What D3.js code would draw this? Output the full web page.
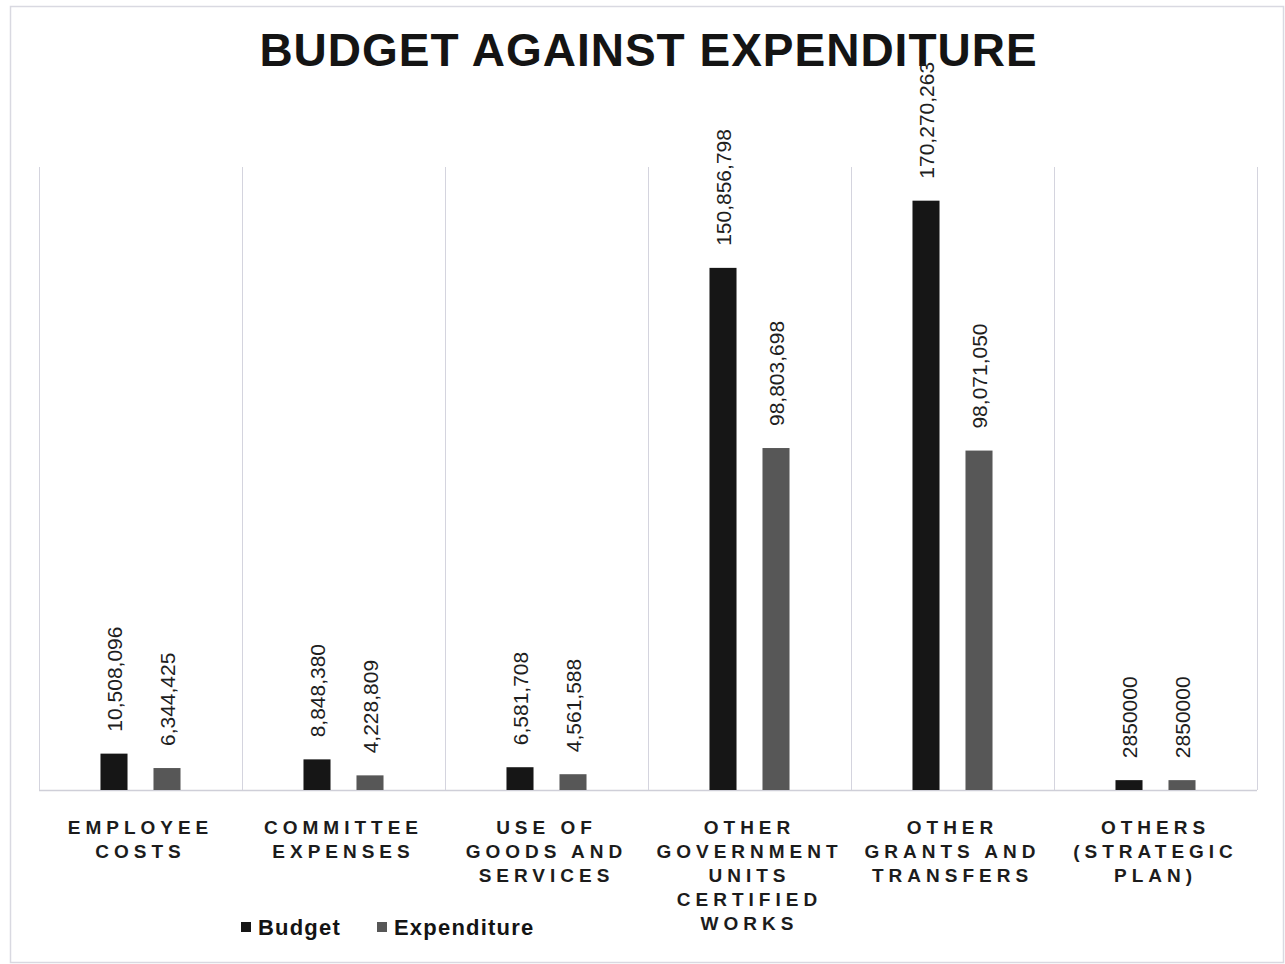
<!DOCTYPE html>
<html>
<head>
<meta charset="utf-8">
<script src="https://cdn.jsdelivr.net/npm/d3@7"></script>
<style>
  html, body { margin: 0; padding: 0; background: #fff; }
  svg { display: block; font-family: "Liberation Sans", Arial, sans-serif; }
</style>
</head>
<body>
<svg id="chart" width="1285" height="964"></svg>
<script>
const title = "BUDGET AGAINST EXPENDITURE";
const categories = [
  "EMPLOYEE COSTS",
  "COMMITTEE EXPENSES",
  "USE OF GOODS AND SERVICES",
  "OTHER GOVERNMENT UNITS CERTIFIED WORKS",
  "OTHER GRANTS AND TRANSFERS",
  "OTHERS (STRATEGIC PLAN)"
];
const categoryLines = [
  ["EMPLOYEE", "COSTS"],
  ["COMMITTEE", "EXPENSES"],
  ["USE OF", "GOODS AND", "SERVICES"],
  ["OTHER", "GOVERNMENT", "UNITS", "CERTIFIED", "WORKS"],
  ["OTHER", "GRANTS AND", "TRANSFERS"],
  ["OTHERS", "(STRATEGIC", "PLAN)"]
];
const seriesNames = ["Budget", "Expenditure"];
const budget = [10508096, 8848380, 6581708, 150856798, 170270263, 2850000];
const expenditure = [6344425, 4228809, 4561588, 98803698, 98071050, 2850000];
// categories whose data labels are shown without thousands separators
const plainLabelCategories = ["OTHERS (STRATEGIC PLAN)"];
const yMax = 180000000;

const colors = { "Budget": "#161616", "Expenditure": "#575757" };

const svg = d3.select("#chart");

// outer frame
svg.append("rect")
  .attr("x", 10.5).attr("y", 6.5).attr("width", 1273).attr("height", 956)
  .attr("fill", "none").attr("stroke", "#d9d9e1").attr("stroke-width", 1.5);

const plot = { left: 39, right: 1257, top: 167, bottom: 790 };

const x0 = d3.scaleBand().domain(categories).range([plot.left, plot.right]).paddingInner(0).paddingOuter(0);
const x1 = d3.scaleBand().domain(seriesNames).range([0, x0.bandwidth()]).paddingInner(0.49).paddingOuter(1.16);
const y = d3.scaleLinear().domain([0, yMax]).range([plot.bottom, plot.top]);

// title
svg.append("text")
  .attr("x", 648 + 0.5).attr("y", 66)
  .attr("text-anchor", "middle")
  .attr("font-size", 46).attr("font-weight", "bold")
  .attr("letter-spacing", 1)
  .attr("fill", "#141414")
  .text(title);

// vertical grid lines at category boundaries
const boundaries = categories.map(c => x0(c)).concat([x0(categories[categories.length - 1]) + x0.bandwidth()]);
svg.append("g").selectAll("line").data(boundaries).join("line")
  .attr("x1", d => d + 0.5).attr("x2", d => d + 0.5)
  .attr("y1", plot.top).attr("y2", plot.bottom)
  .attr("stroke", "#d4d4de").attr("stroke-width", 1);

// baseline
svg.append("line")
  .attr("x1", plot.left).attr("x2", plot.right)
  .attr("y1", plot.bottom + 0.5).attr("y2", plot.bottom + 0.5)
  .attr("stroke", "#cfcfd8").attr("stroke-width", 1.5);

const rows = categories.map((c, i) => ({ cat: c, values: [
  { s: "Budget", v: budget[i] },
  { s: "Expenditure", v: expenditure[i] }
]}));

const groups = svg.append("g").selectAll("g").data(rows).join("g")
  .attr("transform", d => `translate(${x0(d.cat)},0)`);

groups.selectAll("rect").data(d => d.values).join("rect")
  .attr("x", d => x1(d.s))
  .attr("width", x1.bandwidth())
  .attr("y", d => y(d.v))
  .attr("height", d => y(0) - y(d.v))
  .attr("fill", d => colors[d.s]);

const commaFmt = d3.format(",");
groups.each(function(row) {
  const plain = plainLabelCategories.includes(row.cat);
  d3.select(this).selectAll("text.val").data(row.values).join("text")
    .attr("class", "val")
    .attr("transform", d => `translate(${x1(d.s) + x1.bandwidth() / 2},${y(d.v) - 22}) rotate(-90)`)
    .attr("dy", "0.36em")
    .attr("text-anchor", "start")
    .attr("font-size", 21)
    .attr("fill", "#1e1e1e")
    .text(d => plain ? String(d.v) : commaFmt(d.v));
});

// category labels
const ls = 5;
const catLabels = svg.append("g").selectAll("text").data(categories).join("text")
  .attr("text-anchor", "middle")
  .attr("font-size", 19)
  .attr("font-weight", "bold")
  .attr("letter-spacing", ls)
  .attr("fill", "#1c1c1c")
  .attr("x", d => x0(d) + x0.bandwidth() / 2)
  .attr("y", 834);
catLabels.each(function(d, i) {
  d3.select(this).selectAll("tspan").data(categoryLines[i]).join("tspan")
    .attr("x", x0(d) + x0.bandwidth() / 2)
    .attr("y", (t, j) => 834 + j * 24)
    .text(t => t);
});

// legend
const legendItems = [
  { s: "Budget", x: 241 },
  { s: "Expenditure", x: 377 }
];
const lg = svg.append("g").selectAll("g").data(legendItems).join("g")
  .attr("transform", d => `translate(${d.x},0)`);
lg.append("rect").attr("x", 0).attr("y", 922).attr("width", 10).attr("height", 10)
  .attr("fill", d => colors[d.s]);
lg.append("text").attr("x", 17).attr("y", 935)
  .attr("font-size", 22).attr("font-weight", "bold").attr("letter-spacing", 1.2)
  .attr("fill", "#141414")
  .text(d => d.s);
</script>
</body>
</html>
